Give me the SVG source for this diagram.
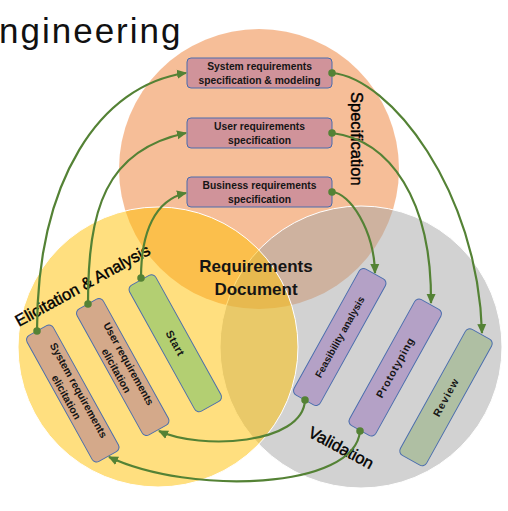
<svg xmlns="http://www.w3.org/2000/svg" width="508" height="511" viewBox="0 0 508 511">
<defs>
<style>
.bx{stroke:#4A6DAD;stroke-width:1}
.spec{fill:#D0939A}
.elic{fill:#D4A98A}
.start{fill:#B3CF72}
.val{fill:#B4A1C6}
.rev{fill:#AFBFA3}
.bt{font-family:"Liberation Sans",Arial,sans-serif;font-weight:bold;fill:#151515;text-anchor:middle}
.lbl{font-family:"Liberation Sans",Arial,sans-serif;fill:#000;stroke:#000;stroke-width:0.4;font-size:16.5px}
.conn{fill:none;stroke:#548235;stroke-width:2.2;marker-start:url(#dot);marker-end:url(#arr)}
</style>
<marker id="arr" viewBox="0 0 10 10" refX="9" refY="5" markerWidth="10" markerHeight="10" markerUnits="userSpaceOnUse" orient="auto">
<path d="M0,0.5 L10,5 L0,9.5 z" fill="#548235"/>
</marker>
<marker id="dot" viewBox="0 0 8 8" refX="4" refY="4" markerWidth="7.5" markerHeight="7.5" markerUnits="userSpaceOnUse">
<circle cx="4" cy="4" r="4" fill="#548235"/>
</marker>
</defs>
<rect width="508" height="511" fill="#fff"/>
<text x="-1" y="43" font-family="'Liberation Sans',Arial,sans-serif" font-size="35" letter-spacing="2" fill="#111">ngineering</text>

<g id="regions">
<circle id="specification-region" cx="259" cy="169" r="140" fill="#ED7D31" fill-opacity="0.5"/>
<circle id="validation-region" cx="361" cy="347" r="141" fill="#A5A5A5" fill-opacity="0.5" stroke="#fff" stroke-width="1"/>
<circle id="elicitation-region" cx="158" cy="347" r="140" fill="#FFC000" fill-opacity="0.5" stroke="#fff" stroke-width="1"/>
</g>

<g id="labels">
<text class="lbl" transform="translate(351,92) rotate(90)">Specification</text>
<text class="lbl" transform="translate(19,327) rotate(-29)">Elicitation &amp; Analysis</text>
<text class="lbl" transform="translate(307,436) rotate(28)">Validation</text>
<text class="bt" font-size="17" x="256" y="272">Requirements</text>
<text class="bt" font-size="17" x="256" y="295">Document</text>
</g>

<g id="sys-spec">
<rect class="bx spec" x="187" y="58" width="145" height="30" rx="4"/>
<text class="bt" font-size="10.3" x="259.5" y="70">System requirements</text>
<text class="bt" font-size="10.3" x="259.5" y="84">specification &amp; modeling</text>
</g>
<g id="user-spec">
<rect class="bx spec" x="187" y="118" width="145" height="30" rx="4"/>
<text class="bt" font-size="10.3" x="259.5" y="130">User requirements</text>
<text class="bt" font-size="10.3" x="259.5" y="144">specification</text>
</g>
<g id="business-spec">
<rect class="bx spec" x="187" y="177" width="145" height="30" rx="4"/>
<text class="bt" font-size="10.3" x="259.5" y="189">Business requirements</text>
<text class="bt" font-size="10.3" x="259.5" y="203">specification</text>
</g>

<g id="sys-elicitation" transform="translate(72.75,393.5) rotate(-29)">
<rect class="bx elic" x="-15" y="-72" width="30" height="144" rx="5"/>
<text class="bt" font-size="10.5" transform="rotate(90)"><tspan x="0" y="-3">System requirements</tspan><tspan x="0" y="11">elicitation</tspan></text>
</g>
<g id="user-elicitation" transform="translate(122.75,367) rotate(-29)">
<rect class="bx elic" x="-15" y="-72" width="30" height="144" rx="5"/>
<text class="bt" font-size="10.5" transform="rotate(90)"><tspan x="0" y="-3">User requirements</tspan><tspan x="0" y="11">elicitation</tspan></text>
</g>
<g id="start" transform="translate(175.25,343.25) rotate(-29)">
<rect class="bx start" x="-15" y="-72" width="30" height="144" rx="5"/>
<text class="bt" font-size="11" letter-spacing="0.5" transform="rotate(90)" x="0" y="3.8">Start</text>
</g>

<g id="feasibility" transform="translate(339.75,337) rotate(29)">
<rect class="bx val" x="-15" y="-72" width="30" height="144" rx="5"/>
<text class="bt" font-size="10" transform="rotate(-90)" x="0" y="3.5">Feasibility analysis</text>
</g>
<g id="prototyping" transform="translate(395.25,367.5) rotate(29)">
<rect class="bx val" x="-15" y="-72" width="30" height="144" rx="5"/>
<text class="bt" font-size="10.5" letter-spacing="0.8" transform="rotate(-90)" x="0" y="3.6">Prototyping</text>
</g>
<g id="review" transform="translate(446,397.25) rotate(29)">
<rect class="bx rev" x="-15" y="-72" width="30" height="144" rx="5"/>
<text class="bt" font-size="10.5" letter-spacing="1" transform="rotate(-90)" x="0" y="3.6">Review</text>
</g>

<g id="connectors">
<path class="conn" d="M141,278 C141,232 155,200 186,193"/>
<path class="conn" d="M88,304 C88,210 105,150 186,133"/>
<path class="conn" d="M37,331 C37,180 100,85 186,73"/>
<path class="conn" d="M332,192 C350,193 374,230 375,273"/>
<path class="conn" d="M332,133 C390,140 432,200 431,303"/>
<path class="conn" d="M332,73 C390,78 478,190 482,333"/>
<path class="conn" d="M305,400 C303,445 200,450 159,431"/>
<path class="conn" d="M360,431 C355,490 190,495 109,457"/>
</g>
</svg>
